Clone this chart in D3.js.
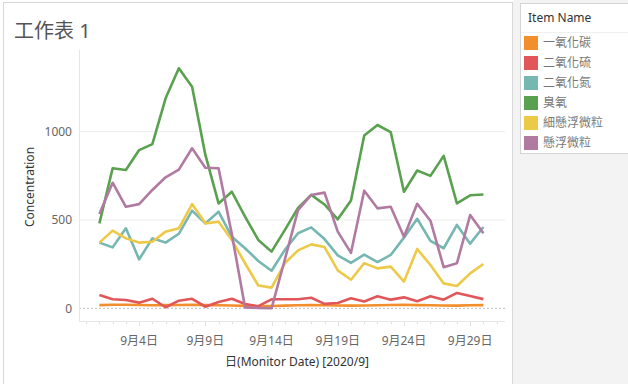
<!DOCTYPE html>
<meta charset="utf-8">
<head>
<title>工作表 1</title>
<script src="https://d3js.org/d3.v7.min.js"></script>
<style>
  body { margin: 0; background: #fff; }
  text { font-family: "Noto Sans", "Noto Sans CJK TC", sans-serif; }
</style>
</head>
<body>
<script>
// data, days of 2020/9
const days = d3.range(1, 31);
const seriesNames = ['一氧化碳', '二氧化硫', '二氧化氮', '臭氧', '細懸浮微粒', '懸浮微粒'];
const colors = ['#F28E2B', '#E15759', '#76B7B2', '#59A14F', '#EDC948', '#B07AA1'];

const coValues   = [18, 20, 20, 19, 17, 18, 19, 20, 18, 17, 16, 14, 12, 13, 15, 17, 18, 17, 16, 15, 16, 17, 19, 20, 18, 17, 16, 15, 17, 18];
const so2Values  = [75, 51, 47, 32, 54, 6, 43, 54, 9, 36, 54, 24, 12, 51, 51, 51, 60, 25, 30, 57, 39, 68, 49, 62, 40, 68, 49, 87, 70, 52];
const no2Values  = [372, 345, 453, 277, 396, 372, 422, 553, 481, 547, 405, 340, 268, 213, 330, 425, 458, 392, 300, 257, 304, 262, 302, 400, 507, 382, 340, 472, 366, 460];
const o3Values   = [481, 793, 783, 896, 930, 1189, 1359, 1255, 870, 594, 660, 519, 387, 321, 443, 569, 642, 588, 504, 611, 978, 1038, 998, 660, 780, 750, 863, 594, 640, 644];
const pm25Values = [372, 440, 396, 372, 377, 434, 453, 590, 481, 490, 387, 255, 129, 117, 255, 328, 362, 347, 215, 162, 256, 226, 236, 151, 336, 245, 141, 126, 198, 251];
const pm10Values = [534, 711, 575, 590, 670, 742, 785, 906, 796, 793, 420, 5, 2, 0, 275, 556, 642, 655, 434, 314, 666, 566, 575, 405, 592, 496, 233, 255, 528, 425];

const yTicks = [0, 500, 1000];
const xTickDays = [4, 9, 14, 19, 24, 29];
const xTickLabels = ['9月4日', '9月9日', '9月14日', '9月19日', '9月24日', '9月29日'];

const allSeries = [coValues, so2Values, no2Values, o3Values, pm25Values, pm10Values];

const width = 628, height = 384;
const svg = d3.select('body').append('svg')
  .attr('width', width)
  .attr('height', height);

// right side panel
svg.append('rect')
  .attr('x', 513).attr('y', 0)
  .attr('width', width - 513).attr('height', height)
  .attr('fill', '#f3f3f3');
// worksheet frame
svg.append('rect')
  .attr('x', 3.5).attr('y', 2.5)
  .attr('width', 509).attr('height', height)
  .attr('fill', '#fff')
  .attr('stroke', '#d8d8d8');

svg.append('text')
  .attr('x', 14).attr('y', 38)
  .attr('font-size', 20)
  .attr('fill', '#555')
  .text('工作表 1');

const plotLeft = 79, plotRight = 505, plotTop = 50, plotBottom = 321;

const x = d3.scaleTime()
  .domain([new Date(2020, 8, 1), new Date(2020, 8, 30)])
  .range([99.4, 483.4]);
const y = d3.scaleLinear()
  .domain([0, 1000])
  .range([308.3, 131.7]);

// gridlines
svg.append('g')
  .selectAll('line')
  .data(yTicks.filter(d => d !== 0))
  .enter().append('line')
    .attr('x1', plotLeft).attr('x2', plotRight)
    .attr('y1', d => y(d)).attr('y2', d => y(d))
    .attr('stroke', '#ececec');

// zero line
svg.append('line')
  .attr('x1', plotLeft).attr('x2', plotRight)
  .attr('y1', y(0)).attr('y2', y(0))
  .attr('stroke', '#bbb')
  .attr('stroke-dasharray', '2,2');

// axes lines
svg.append('line')
  .attr('x1', plotLeft + 0.5).attr('x2', plotLeft + 0.5)
  .attr('y1', plotTop).attr('y2', plotBottom)
  .attr('stroke', '#e6e6e6');
svg.append('line')
  .attr('x1', plotLeft).attr('x2', plotRight)
  .attr('y1', plotBottom + 0.5).attr('y2', plotBottom + 0.5)
  .attr('stroke', '#e6e6e6');

// y tick labels
svg.append('g')
  .selectAll('text')
  .data(yTicks)
  .enter().append('text')
    .attr('x', 72)
    .attr('y', d => y(d))
    .attr('dy', '0.35em')
    .attr('text-anchor', 'end')
    .attr('font-size', 12)
    .attr('fill', '#666')
    .text(d => d);

svg.append('text')
  .attr('transform', 'translate(34,187) rotate(-90)')
  .attr('text-anchor', 'middle')
  .attr('font-size', 12)
  .attr('fill', '#333')
  .text('Concentration');

// x minor ticks (one per day)
const tickDates = d3.timeDay.range(new Date(2020, 7, 31), new Date(2020, 9, 2));
svg.append('g')
  .selectAll('line')
  .data(tickDates)
  .enter().append('line')
    .attr('x1', d => Math.round(x(d)) + 0.5)
    .attr('x2', d => Math.round(x(d)) + 0.5)
    .attr('y1', plotBottom + 1)
    .attr('y2', d => xTickDays.includes(d.getDate()) && d.getMonth() === 8 ? plotBottom + 5 : plotBottom + 3)
    .attr('stroke', '#e0e0e0');

svg.append('g')
  .selectAll('text')
  .data(xTickDays)
  .enter().append('text')
    .attr('x', d => x(new Date(2020, 8, d)))
    .attr('y', 341)
    .attr('dy', '0.35em')
    .attr('text-anchor', 'middle')
    .attr('font-size', 12)
    .attr('fill', '#666')
    .text((d, i) => xTickLabels[i]);

svg.append('text')
  .attr('x', 297).attr('y', 362)
  .attr('dy', '0.35em')
  .attr('text-anchor', 'middle')
  .attr('font-size', 12)
  .attr('fill', '#333')
  .text('日(Monitor Date) [2020/9]');

// lines
const line = d3.line()
  .x((d, i) => x(new Date(2020, 8, days[i])))
  .y(d => y(d));

svg.append('g')
  .selectAll('path')
  .data(allSeries)
  .enter().append('path')
    .attr('d', line)
    .attr('fill', 'none')
    .attr('stroke', (d, i) => colors[i])
    .attr('stroke-width', 2.6)
    .attr('stroke-linejoin', 'round');

// legend
const legend = svg.append('g');
legend.append('rect')
  .attr('x', 520.5).attr('y', 3.5)
  .attr('width', 120).attr('height', 150)
  .attr('fill', '#fff')
  .attr('stroke', '#d4d4d4');
legend.append('line')
  .attr('x1', 521).attr('x2', 628)
  .attr('y1', 32.5).attr('y2', 32.5)
  .attr('stroke', '#f0f0f0');
legend.append('text')
  .attr('x', 528).attr('y', 18)
  .attr('dy', '0.35em')
  .attr('font-size', 12)
  .attr('fill', '#333')
  .text('Item Name');

const items = legend.selectAll('g.item')
  .data(seriesNames)
  .enter().append('g')
    .attr('class', 'item')
    .attr('transform', (d, i) => `translate(524,${43 + i * 20})`);
items.append('rect')
  .attr('x', 0).attr('y', -7)
  .attr('width', 14).attr('height', 14)
  .attr('fill', (d, i) => colors[i]);
items.append('text')
  .attr('x', 19).attr('y', 0)
  .attr('dy', '0.35em')
  .attr('font-size', 12)
  .attr('fill', '#777')
  .text(d => d);
</script>
</body>
</html>
